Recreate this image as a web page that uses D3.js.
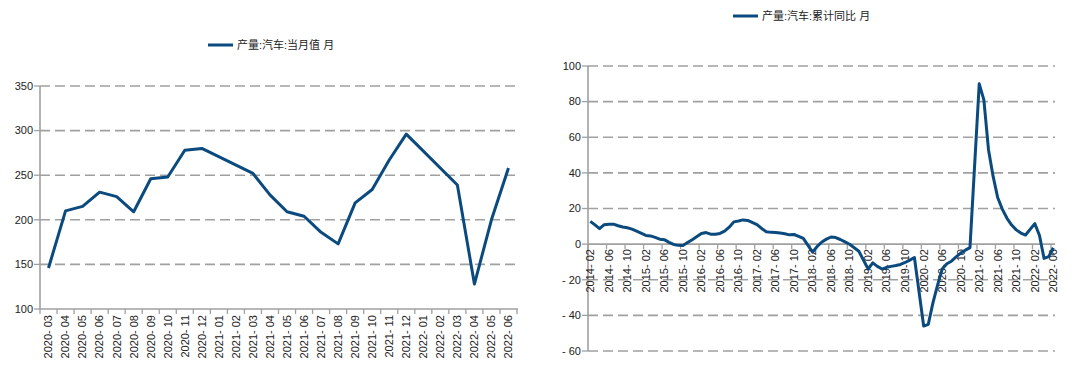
<!DOCTYPE html>
<html><head><meta charset="utf-8">
<script src="https://cdn.jsdelivr.net/npm/d3@7"></script>
<style>
html,body{margin:0;padding:0;background:#fff;}
svg{display:block;font-family:"Liberation Sans",Arial,"Noto Sans CJK SC",sans-serif;}
</style></head>
<body><svg id="c" width="1080" height="368"></svg>
<script>
// ---------- data ----------
const leftTitle = "产量:汽车:当月值 月";
const leftCategories = ["2020-03","2020-04","2020-05","2020-06","2020-07","2020-08","2020-09","2020-10","2020-11","2020-12",
 "2021-01","2021-02","2021-03","2021-04","2021-05","2021-06","2021-07","2021-08","2021-09","2021-10","2021-11","2021-12",
 "2022-01","2022-02","2022-03","2022-04","2022-05","2022-06"];
const leftValues = [146,210,215,231,226,209,246,248,278,280,
 null,null,252,228,209,204,186,173,219,234,267,296,
 null,null,239,128,200,258];
const leftYTicks = [100,150,200,250,300,350];

const rightTitle = "产量:汽车:累计同比 月";
const rightStart = "2014-02", rightEnd = "2022-06";
const rightValues = [
 12.8,10.8,8.7,10.9,11.2,11.2,10.3,9.6,9.2,8.4,7.3,               // 2014-02..12
 null,4.9,4.6,3.8,2.8,2.5,1.0,-0.2,-0.7,-0.8,0.9,2.5,              // 2015
 null,6.0,6.5,5.6,5.5,6.0,7.3,9.5,12.5,13.0,13.6,13.3,             // 2016
 null,11.0,8.8,7.0,6.6,6.5,6.2,5.8,5.2,5.4,4.4,3.2,                // 2017
 null,-4.5,-1.3,1.2,2.8,4.0,3.7,2.6,1.3,-0.1,-2.0,-4.0,            // 2018
 null,-14.0,-10.5,-12.5,-14.0,-13.0,-12.5,-12.0,-11.4,-10.3,-9.0,-7.5, // 2019
 null,-46.0,-45.0,-33.0,-23.0,-14.0,-11.0,-9.6,-7.2,-5.0,-3.4,-2.0,  // 2020
 null,90.0,81.0,53.0,38.0,26.0,19.5,14.5,10.7,8.0,6.2,5.1,          // 2021
 null,11.5,5.0,-8.0,-7.0,-2.0                                       // 2022
];
const rightYTicks = [-60,-40,-20,0,20,40,60,80,100];
const rightTickLabels = ["2014-02","2014-06","2014-10","2015-02","2015-06","2015-10","2016-02","2016-06","2016-10",
 "2017-02","2017-06","2017-10","2018-02","2018-06","2018-10","2019-02","2019-06","2019-10",
 "2020-02","2020-06","2020-10","2021-02","2021-06","2021-10","2022-02","2022-06"];

// ---------- styles ----------
const LINE = "#0b4a7e", GRID = "#a0a0a0", AXIS = "#a0a0a0", TXT = "#222";
const svg = d3.select("#c");
const fmtM = d3.timeFormat("%Y-%m"), parseM = d3.timeParse("%Y-%m");
const rightCategories = d3.timeMonth.range(parseM(rightStart), d3.timeMonth.offset(parseM(rightEnd),1)).map(fmtM);

function legend(x, y, text){
  const g = svg.append("g");
  g.append("line").attr("x1",x).attr("x2",x+25).attr("y1",y).attr("y2",y)
   .attr("stroke",LINE).attr("stroke-width",3);
  g.append("text").attr("x",x+29).attr("y",y).attr("dy","0.35em")
   .attr("font-size",11).attr("fill",TXT).text(text);
}

function panel(o){
  const x = d3.scaleBand().domain(o.cats).range([o.x0,o.x1]).padding(0);
  const y = d3.scaleLinear().domain(o.ydom).range([o.y0,o.y1]);
  const g = svg.append("g");
  // gridlines
  g.selectAll("line.grid").data(o.yticks.filter(v=>v!==o.axisAt)).join("line")
   .attr("x1",o.x0).attr("x2",o.gridEnd).attr("y1",d=>y(d)).attr("y2",d=>y(d))
   .attr("stroke",GRID).attr("stroke-width",1.6).attr("stroke-dasharray","10,5");
  // y axis
  g.append("line").attr("x1",o.x0).attr("x2",o.x0).attr("y1",o.y0).attr("y2",o.y1)
   .attr("stroke",AXIS).attr("stroke-width",1.6);
  g.selectAll("line.yt").data(o.yticks).join("line")
   .attr("x1",o.x0-6).attr("x2",o.x0).attr("y1",d=>y(d)).attr("y2",d=>y(d))
   .attr("stroke",AXIS).attr("stroke-width",1.3);
  g.selectAll("text.yl").data(o.yticks).join("text")
   .attr("x",o.x0-7).attr("y",d=>y(d)).attr("dy","0.35em").attr("text-anchor","end")
   .attr("font-size",11).attr("fill",TXT).text(d=>d<0?"- "+(-d):d);
  // x axis
  const ay = y(o.axisAt);
  g.append("line").attr("x1",o.x0).attr("x2",o.gridEnd).attr("y1",ay).attr("y2",ay)
   .attr("stroke",AXIS).attr("stroke-width",1.6);
  const tickCats = o.cats.filter(c=>o.tickLabels.includes(c));
  const tickPos = tickCats.map(c=>x(c)).concat(o.tickEveryBand ? [o.x1] : []);
  g.selectAll("line.xt").data(tickPos).join("line")
   .attr("x1",d=>d).attr("x2",d=>d).attr("y1",ay).attr("y2",ay+5)
   .attr("stroke",AXIS).attr("stroke-width",1.3);
  g.selectAll("text.xl").data(tickCats).join("text")
   .attr("transform",d=>`translate(${x(d)+x.bandwidth()/2},${ay+o.labelGap}) rotate(-90)`)
   .attr("dy","0.35em").attr("text-anchor","end").attr("font-size",11).attr("fill",TXT)
   .text(d=>d.replace("-","- "));
  // series
  const pts = o.cats.map((c,i)=>({c,v:o.vals[i]})).filter(d=>d.v!==null);
  g.append("path").datum(pts)
   .attr("d",d3.line().x(d=>x(d.c)+x.bandwidth()/2).y(d=>y(d.v)))
   .attr("fill","none").attr("stroke",LINE).attr("stroke-width",3).attr("stroke-linejoin","round");
}

legend(208,45,leftTitle);
legend(733,16,rightTitle);

panel({cats:leftCategories, vals:leftValues, x0:40, x1:517, gridEnd:518,
  ydom:[100,350], y0:309, y1:86, yticks:leftYTicks, axisAt:100,
  tickLabels:leftCategories, tickEveryBand:true, labelGap:6});

panel({cats:rightCategories, vals:rightValues, x0:588, x1:588+101*4.63, gridEnd:1055,
  ydom:[-60,100], y0:351, y1:66, yticks:rightYTicks, axisAt:0,
  tickLabels:rightTickLabels, tickEveryBand:false, labelGap:5});
</script></body></html>
